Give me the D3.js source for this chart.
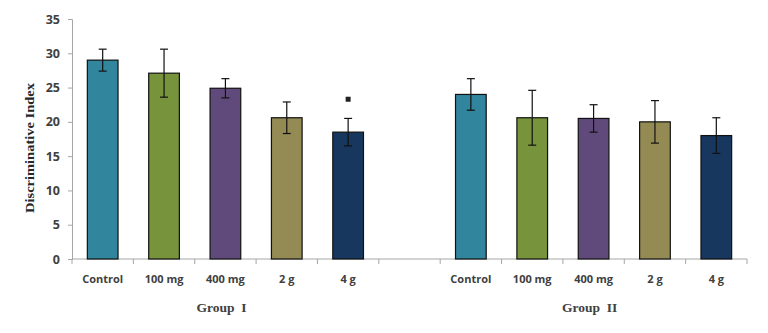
<!DOCTYPE html>
<html>
<head>
<meta charset="utf-8">
<script src="https://cdn.jsdelivr.net/npm/d3@7"></script>
<style>
  body { margin: 0; background: #fff; }
  .tick text { font-family: "Open Sans", "Liberation Sans", sans-serif; font-weight: bold; fill: #404040; }
</style>
</head>
<body>
<div id="chart"></div>
<script>
// data
const doses = ["Control", "100 mg", "400 mg", "2 g", "4 g"];
const groups = ["Group  I", "Group  II"];
const groupI_mean = [29.0, 27.1, 24.9, 20.6, 18.5];
const groupI_err = [1.6, 3.5, 1.4, 2.3, 2.0];
const groupII_mean = [24.0, 20.6, 20.5, 20.0, 18.0];
const groupII_err = [2.3, 4.0, 2.0, 3.1, 2.6];
const yTicks = [0, 5, 10, 15, 20, 25, 30, 35];
const colors = ["#31859c", "#77933c", "#604a7b", "#948a54", "#17375e"];
// significance mark: group I, 4 g
const sigMarks = [{ group: 0, dose: 4, value: 23.3 }];

const width = 768, height = 333;
const margin = { top: 19, right: 21, bottom: 74, left: 72 };

let rows = [];
[groupI_mean, groupII_mean].forEach((means, g) => {
  means.forEach((m, i) => {
    rows.push({ key: g + "-" + i, group: g, dose: i, mean: m,
      err: g == 0 ? groupI_err[i] : groupII_err[i] });
  });
});

// 11 slots: 5 doses, one empty gap, 5 doses
let slots = [];
doses.forEach((d, i) => slots.push("0-" + i));
slots.push("gap");
doses.forEach((d, i) => slots.push("1-" + i));

let svg = d3.select("#chart").append("svg")
  .attr("width", width)
  .attr("height", height)
  .append("g")
  .attr("transform", `translate(${margin.left}, ${margin.top})`);

const w = width - margin.left - margin.right;
const h = height - margin.top - margin.bottom;

let x = d3.scaleBand().domain(slots).range([0, w]).padding(0);
let y = d3.scaleLinear().domain([0, 35]).range([h, 0]);

// y axis
let yAxis = svg.append("g")
  .call(d3.axisLeft(y).tickValues(yTicks).tickSize(4).tickPadding(8));
yAxis.selectAll(".tick text").style("font-size", "12.5px");
yAxis.selectAll("line, path").attr("stroke", "#a6a6a6");

// x axis: ticks at slot boundaries
let xAxis = svg.append("g").attr("transform", `translate(0, ${h})`);
xAxis.append("line").attr("x1", 0).attr("x2", w).attr("stroke", "#a6a6a6");
xAxis.selectAll(".bound").data(slots.concat(["end"])).enter().append("line")
  .attr("x1", (d, i) => i * x.step())
  .attr("x2", (d, i) => i * x.step())
  .attr("y1", 0).attr("y2", 5)
  .attr("stroke", "#a6a6a6");
xAxis.selectAll(".lab").data(rows).enter().append("text")
  .attr("x", d => x(d.key) + x.bandwidth() / 2)
  .attr("y", 24)
  .attr("text-anchor", "middle")
  .style("font-family", '"Open Sans", "Liberation Sans", sans-serif')
  .style("font-weight", "bold")
  .style("font-size", "11px")
  .style("fill", "#404040")
  .text(d => doses[d.dose]);

// group labels
svg.selectAll(".grp").data(groups).enter().append("text")
  .attr("x", (d, g) => x(g + "-2") + x.bandwidth() / 2 - 4)
  .attr("y", h + 53)
  .attr("text-anchor", "middle")
  .style("font-family", '"Liberation Serif", serif')
  .style("font-weight", "bold")
  .style("font-size", "13.5px")
  .style("fill", "#404040")
  .style("white-space", "pre")
  .text(d => d);

// y label
svg.append("text")
  .attr("transform", `translate(-38, ${h / 2 + 9}) rotate(-90)`)
  .attr("text-anchor", "middle")
  .attr("textLength", 130)
  .attr("lengthAdjust", "spacingAndGlyphs")
  .style("font-family", '"Liberation Serif", serif')
  .style("font-weight", "bold")
  .style("font-size", "13px")
  .style("fill", "#262626")
  .text("Discriminative Index");

// bars
const barW = x.bandwidth() * 0.5;
svg.selectAll("rect.bar").data(rows).enter().append("rect")
  .attr("class", "bar")
  .attr("x", d => x(d.key) + (x.bandwidth() - barW) / 2)
  .attr("y", d => y(d.mean))
  .attr("width", barW)
  .attr("height", d => h - y(d.mean))
  .attr("fill", d => colors[d.dose])
  .attr("stroke", "#111")
  .attr("stroke-width", 1.2);

// error bars
let eb = svg.append("g").attr("stroke", "#111").attr("stroke-width", 1.2);
rows.forEach(d => {
  let cx = x(d.key) + x.bandwidth() / 2;
  eb.append("line").attr("x1", cx).attr("x2", cx)
    .attr("y1", y(d.mean + d.err)).attr("y2", y(d.mean - d.err));
  [d.mean + d.err, d.mean - d.err].forEach(v => {
    eb.append("line").attr("x1", cx - 4).attr("x2", cx + 4)
      .attr("y1", y(v)).attr("y2", y(v));
  });
});

// significance marker
svg.selectAll(".sig").data(sigMarks).enter().append("rect")
  .attr("x", d => x(d.group + "-" + d.dose) + x.bandwidth() / 2 - 2.5)
  .attr("y", d => y(d.value) - 2.5)
  .attr("width", 5).attr("height", 5)
  .attr("fill", "#222");
</script>
</body>
</html>
